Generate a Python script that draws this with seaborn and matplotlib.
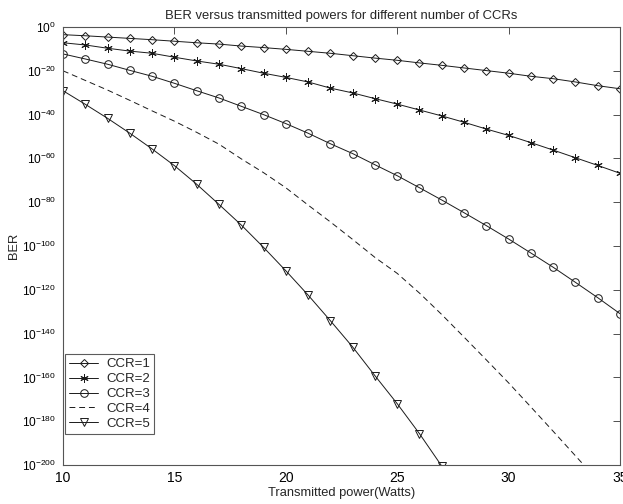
import numpy as np
import pandas as pd
import matplotlib
matplotlib.use("Agg")
import matplotlib.pyplot as plt
import seaborn as sns
from matplotlib.ticker import FuncFormatter, NullLocator

# ---- data (log10 of BER) ----
power = list(range(10, 36))
ccr1_exp = [-3.5, -4.0, -4.6, -5.2, -5.8, -6.5, -7.2, -7.8, -8.7, -9.4, -10.2, -11.1,
            -12.0, -13.1, -14.2, -15.2, -16.4, -17.5, -18.7, -19.9, -21.1, -22.5,
            -23.6, -25.1, -26.8, -28.2]
ccr2_exp = [-7.2, -8.2, -9.7, -11.0, -12.0, -13.8, -15.5, -17.0, -19.0, -21.1, -23.0, -25.1,
            -27.9, -30.1, -32.7, -35.2, -37.9, -40.6, -43.5, -46.6, -49.5, -52.8,
            -56.2, -59.7, -63.2, -66.8]
ccr3_exp = [-12.3, -14.6, -17.0, -19.8, -22.5, -25.7, -29.1, -32.4, -36.2, -40.0, -44.1, -48.5,
            -53.3, -57.8, -62.9, -67.9, -73.4, -79.0, -84.8, -90.7, -96.8, -103.2,
            -109.7, -116.6, -123.6, -130.9]
ccr4_exp = [-20.0, -24.4, -28.8, -33.5, -38.3, -43.0, -48.1, -53.5, -60.2, -66.5, -73.4, -81.3,
            -89.0, -97.0, -105.2, -112.5, -121.5, -131.3, -141.6, -152.0, -162.5, -173.5,
            -184.6, -195.8, -207.0, -218.0]
ccr5_exp = [-29.1, -35.3, -41.7, -48.5, -55.7, -63.3, -71.8, -81.0, -90.4, -100.6, -111.3,
            -122.4, -134.1, -146.1, -159.2, -172.0, -185.7, -200.5]
labels = ["CCR=1", "CCR=2", "CCR=3", "CCR=4", "CCR=5"]
ytick_exps = list(range(-200, 1, 20))
xticks = [10, 15, 20, 25, 30, 35]

series = [ccr1_exp, ccr2_exp, ccr3_exp, ccr4_exp, ccr5_exp]
rows = []
for lab, exps in zip(labels, series):
    for x, e in zip(power, exps):
        rows.append({"power": x, "BER": 10.0 ** e, "CCR": lab})
df = pd.DataFrame(rows)

sns.set_style("white")
plt.rcParams["font.family"] = ["Liberation Sans", "DejaVu Sans"]
plt.rcParams["mathtext.fontset"] = "custom"
plt.rcParams["mathtext.rm"] = "Liberation Sans"
plt.rcParams["mathtext.it"] = "Liberation Sans:italic"
plt.rcParams["mathtext.bf"] = "Liberation Sans:bold"

fig = plt.figure(figsize=(6.23, 5.04), dpi=100)
ax = fig.add_axes([63 / 623, 39 / 504, 557 / 623, 438 / 504])

styles = {
    "CCR=1": dict(marker="D", markersize=4.0, linestyle="-"),
    "CCR=2": dict(marker=(6, 2, 0), markersize=6.0, linestyle="-"),
    "CCR=3": dict(marker="o", markersize=5.5, linestyle="-"),
    "CCR=4": dict(marker=None, markersize=0, linestyle=(0, (6, 4))),
    "CCR=5": dict(marker="v", markersize=6.0, linestyle="-"),
}
for lab in labels:
    st = styles[lab]
    sns.lineplot(data=df[df["CCR"] == lab], x="power", y="BER", ax=ax,
                 color="#1a1a1a", linewidth=0.7, label=lab,
                 marker=st["marker"], markersize=st["markersize"],
                 markerfacecolor="none", markeredgecolor="#1a1a1a",
                 markeredgewidth=0.7, linestyle=st["linestyle"],
                 estimator=None, errorbar=None, clip_on=True)

ax.set_yscale("log")
ax.set_xlim(10, 35)
ax.set_ylim(1e-200, 1e0)
ax.set_yticks([10.0 ** e for e in ytick_exps])
ax.yaxis.set_minor_locator(NullLocator())
ax.yaxis.set_major_formatter(FuncFormatter(lambda v, p: r"$10^{%d}$" % round(np.log10(v))))
ax.set_xticks(xticks)
ax.set_xticklabels([str(t) for t in xticks])

ax.tick_params(direction="in", length=5, width=0.6, colors="#333333",
               labelsize=10, labelcolor="black", top=True, right=True, pad=4)
ax.tick_params(axis="y", pad=5, labelsize=8.6)
for s in ax.spines.values():
    s.set_visible(True)
    s.set_color("#555555")
    s.set_linewidth(0.8)

ax.set_title("BER versus transmitted powers for different number of CCRs",
             fontsize=9.4, pad=6)
ax.set_xlabel("Transmitted power(Watts)", fontsize=9.3, labelpad=2)
ax.set_ylabel("BER", fontsize=9.3)
ax.yaxis.set_label_coords(-0.077, 0.5)

leg = ax.legend(loc="lower left", bbox_to_anchor=(0.004, 0.071), borderaxespad=0,
                fontsize=9.5, frameon=True, fancybox=False, handlelength=2.2,
                labelspacing=0.2, borderpad=0.3, handletextpad=0.6)
leg.get_frame().set_edgecolor("#333333")
leg.get_frame().set_linewidth(0.8)

fig.savefig("out.png", dpi=100)
